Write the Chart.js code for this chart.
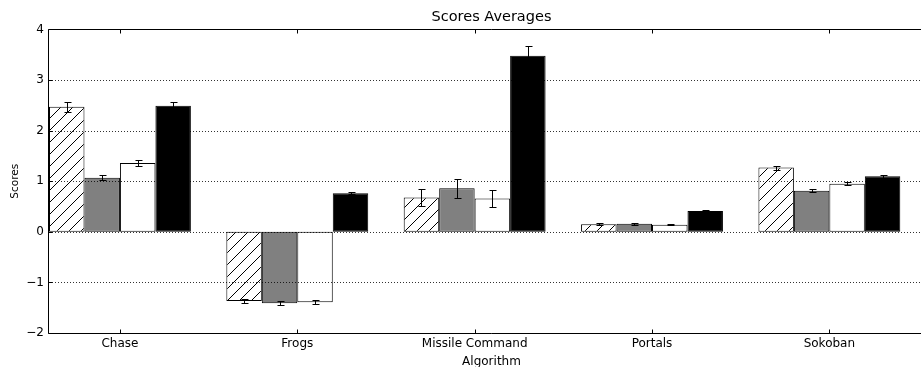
<!DOCTYPE html>
<html>
<head>
<meta charset="utf-8">
<script src="https://cdn.jsdelivr.net/npm/chart.js@4/dist/chart.umd.min.js"></script>
<style>
  html, body { margin: 0; padding: 0; background: #fff; overflow: hidden; }
  #wrap { width: 940px; height: 367px; }
</style>
</head>
<body>
<div id="wrap"><canvas id="c" width="940" height="367"></canvas></div>
<script>
// ---- data ----
const categories = ['Chase', 'Frogs', 'Missile Command', 'Portals', 'Sokoban'];
const yTicks = [-2, -1, 0, 1, 2, 3, 4];

const seriesHatched = [2.47, -1.37, 0.68, 0.15, 1.27];
const errorsHatched = [0.10, 0.04, 0.17, 0.02, 0.04];

const seriesGray = [1.07, -1.41, 0.86, 0.16, 0.81];
const errorsGray = [0.05, 0.04, 0.19, 0.02, 0.03];

const seriesWhite = [1.36, -1.39, 0.66, 0.14, 0.95];
const errorsWhite = [0.05, 0.04, 0.17, 0.015, 0.03];

const seriesBlack = [2.49, 0.76, 3.48, 0.41, 1.10];
const errorsBlack = [0.08, 0.02, 0.20, 0.02, 0.03];

// ---- styling ----
const FONT = 'DejaVu Sans';

function hatchPattern() {
  const c = document.createElement('canvas');
  c.width = 12; c.height = 12;
  const g = c.getContext('2d');
  g.fillStyle = '#fff';
  g.fillRect(0, 0, 12, 12);
  g.strokeStyle = '#000';
  g.lineWidth = 1;
  g.beginPath();
  g.moveTo(-1, 13); g.lineTo(13, -1);
  g.moveTo(-13, 13); g.lineTo(1, -1);
  g.moveTo(11, 13); g.lineTo(25, -1);
  g.stroke();
  return g.createPattern(c, 'repeat');
}

const ctx = document.getElementById('c').getContext('2d');

function toPoints(arr) { return arr.map((v, i) => ({ x: i, y: v })); }

const datasets = [
  { label: 'Hatched', data: toPoints(seriesHatched), errors: errorsHatched, backgroundColor: hatchPattern() },
  { label: 'Gray', data: toPoints(seriesGray), errors: errorsGray, backgroundColor: '#808080' },
  { label: 'White', data: toPoints(seriesWhite), errors: errorsWhite, backgroundColor: '#ffffff' },
  { label: 'Black', data: toPoints(seriesBlack), errors: errorsBlack, backgroundColor: '#000000' }
].map(d => Object.assign(d, {
  borderColor: '#000', borderWidth: 1, borderSkipped: false,
  categoryPercentage: 0.8, barPercentage: 1.0
}));

const overlay = {
  id: 'overlay',
  afterDatasetsDraw(chart) {
    const { ctx, chartArea: a, scales: { x, y } } = chart;
    ctx.save();
    // dotted horizontal grid (drawn above bars, as in the reference)
    ctx.strokeStyle = 'rgba(0,0,0,0.8)';
    ctx.lineWidth = 1;
    ctx.setLineDash([1, 2]);
    yTicks.forEach(t => {
      const py = Math.round(y.getPixelForValue(t)) + 0.5;
      ctx.beginPath();
      ctx.moveTo(a.left, py);
      ctx.lineTo(a.right, py);
      ctx.stroke();
    });
    ctx.setLineDash([]);

    // error bars
    ctx.strokeStyle = '#000';
    chart.data.datasets.forEach((ds, di) => {
      const meta = chart.getDatasetMeta(di);
      meta.data.forEach((bar, i) => {
        const v = ds.data[i].y, e = ds.errors[i];
        const px = Math.round(bar.x) + 0.5;
        const y1 = Math.round(y.getPixelForValue(v - e)) + 0.5;
        const y2 = Math.round(y.getPixelForValue(v + e)) + 0.5;
        ctx.beginPath();
        ctx.moveTo(px, y1); ctx.lineTo(px, y2);
        ctx.moveTo(px - 3, y1); ctx.lineTo(px + 4, y1);
        ctx.moveTo(px - 3, y2); ctx.lineTo(px + 4, y2);
        ctx.stroke();
      });
    });

    // spines
    const top = Math.floor(a.top) + 0.5;
    const bottom = Math.round(a.bottom) + 0.5;
    const left = Math.round(a.left) - 0.5;
    ctx.beginPath();
    ctx.moveTo(left, top); ctx.lineTo(a.right, top);
    ctx.moveTo(left, bottom); ctx.lineTo(a.right, bottom);
    ctx.moveTo(left, top); ctx.lineTo(left, bottom);
    ctx.moveTo(a.right - 0.5, top); ctx.lineTo(a.right - 0.5, bottom);
    ctx.stroke();

    // inward tick marks
    ctx.beginPath();
    yTicks.forEach(t => {
      const py = Math.round(y.getPixelForValue(t)) + 0.5;
      ctx.moveTo(left, py); ctx.lineTo(left + 4, py);
    });
    categories.forEach((c, i) => {
      const px = Math.round(x.getPixelForValue(i)) + 0.5;
      ctx.moveTo(px, top); ctx.lineTo(px, top + 4);
      ctx.moveTo(px, bottom); ctx.lineTo(px, bottom - 4);
    });
    ctx.stroke();
    ctx.restore();
  }
};

new Chart(ctx, {
  type: 'bar',
  data: { datasets },
  options: {
    responsive: false,
    animation: false,
    devicePixelRatio: 1,
    layout: { padding: { left: 0, right: 6, top: 0, bottom: 0 } },
    plugins: {
      legend: { display: false },
      tooltip: { enabled: false },
      title: {
        display: true,
        text: 'Scores Averages',
        fullSize: false,
        color: '#000',
        font: { family: FONT, size: 14.5, weight: 'normal' },
        padding: { top: 9, bottom: 3 }
      }
    },
    scales: {
      x: {
        type: 'linear',
        offset: false,
        min: -0.4,
        max: 4.59,
        grid: { display: false, drawTicks: false, offset: false },
        border: { display: false },
        afterBuildTicks(s) { s.ticks = categories.map((c, i) => ({ value: i })); },
        afterFit(s) { s.height = 34; },
        ticks: {
          color: '#000',
          font: { family: FONT, size: 12 },
          padding: 4,
          maxRotation: 0,
          autoSkip: false,
          callback: (v) => categories[v] ?? ''
        },
        title: {
          display: true,
          text: 'Algorithm',
          color: '#000',
          font: { family: FONT, size: 12, lineHeight: 0.9 },
          padding: { top: 0, bottom: 0 }
        }
      },
      y: {
        min: -2,
        max: 4,
        grid: { display: false, drawTicks: false },
        border: { display: false },
        afterBuildTicks(s) { s.ticks = yTicks.map(v => ({ value: v })); },
        afterFit(s) { s.width = 49; },
        ticks: {
          color: '#000',
          font: { family: FONT, size: 12 },
          padding: 5,
          callback: (v) => (v < 0 ? '\u2212' + Math.abs(v) : String(v))
        },
        title: {
          display: true,
          text: 'Scores',
          color: '#000',
          font: { family: FONT, size: 10.5 },
          padding: { top: 9, bottom: 0 }
        }
      }
    }
  },
  plugins: [overlay]
});
</script>
</body>
</html>
